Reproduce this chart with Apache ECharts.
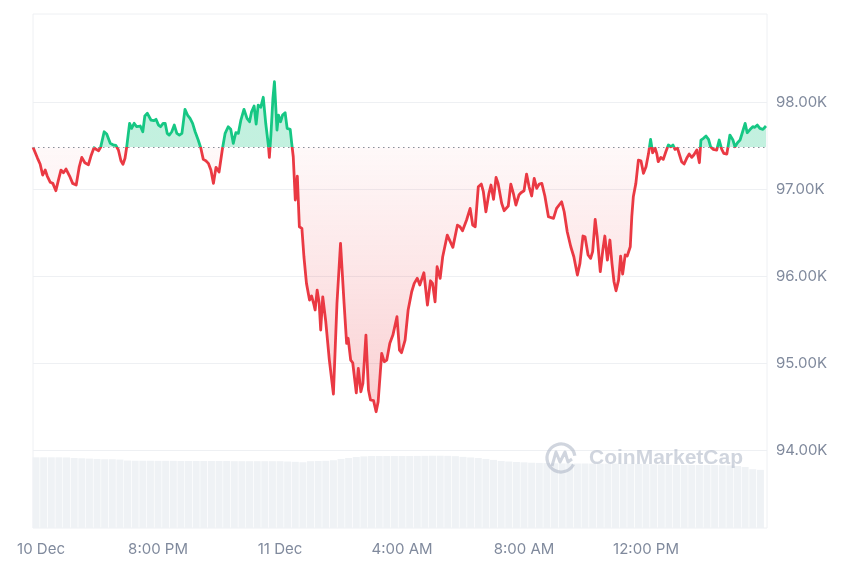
<!DOCTYPE html>
<html><head><meta charset="utf-8">
<script src="https://cdn.jsdelivr.net/npm/echarts@6/dist/echarts.min.js"></script>
<style>html,body{margin:0;padding:0;background:#fff}#c{width:860px;height:573px}</style>
</head><body><div id="c"></div>
<script>
// reference (opening) price, drawn as dotted baseline
const baseline = 97485;
// minutes relative to 11 Dec 00:00
const times = [-486,-477,-472,-467,-462,-458,-452,-447,-441,-436,-431,-426,-421,-414,-408,-401,-395,-390,-384,-377,-372,-366,-362,-357,-353,-346,-341,-334,-328,-323,-318,-313,-309,-305,-302,-296,-292,-287,-282,-275,-270,-266,-261,-254,-248,-244,-239,-235,-230,-226,-222,-218,-213,-208,-203,-198,-193,-187,-182,-177,-172,-167,-161,-156,-151,-146,-141,-136,-131,-126,-120,-113,-108,-102,-97,-92,-87,-82,-77,-71,-65,-60,-56,-51,-47,-43,-38,-33,-28,-23,-21,-18,-14,-11,-6,-3,1,5,10,14,20,23,26,30,34,38,43,47,52,58,62,66,69,73,77,80,84,90,97,105,112,119,126,131,134,139,143,150,154,159,163,169,174,178,184,189,193,200,205,210,216,222,230,235,239,246,252,259,264,270,275,283,290,296,300,305,309,315,320,329,340,349,354,359,367,374,379,384,390,396,400,405,411,415,420,425,429,436,441,449,454,459,464,470,474,480,485,490,495,500,505,510,515,521,528,538,544,554,559,565,572,578,585,590,596,600,606,611,615,620,624,630,635,639,644,649,653,657,661,666,670,674,679,683,689,692,695,700,705,710,715,720,725,729,733,738,741,744,749,754,759,764,769,773,777,782,786,790,795,800,805,810,814,820,825,828,833,838,843,847,852,859,864,869,873,879,882,885,891,895,900,905,910,915,919,925,930,934,939,944,950,956];
const prices = [97485,97358,97292,97166,97223,97154,97082,97070,96985,97108,97223,97192,97235,97154,97070,97051,97261,97369,97307,97284,97384,97480,97461,97445,97484,97663,97637,97530,97511,97507,97453,97330,97289,97358,97473,97760,97702,97760,97721,97729,97663,97844,97875,97798,97790,97806,97740,97721,97760,97760,97645,97625,97663,97740,97645,97625,97645,97921,97855,97817,97760,97663,97568,97480,97346,97330,97300,97223,97070,97254,97200,97480,97645,97721,97691,97530,97652,97645,97798,97921,97817,97778,97893,97959,97752,97970,97944,98059,97752,97511,97369,97625,98047,98238,97683,97855,97778,97855,97882,97702,97691,97530,97376,96879,97154,96572,96553,96227,95921,95730,95776,95692,95615,95844,95692,95385,95767,95480,95040,94650,95692,96381,95692,95232,95290,95040,95009,94664,94945,94676,94772,95327,94695,94581,94573,94446,94561,95117,95021,95040,95232,95327,95538,95155,95124,95270,95615,95825,95921,95979,95902,96043,95672,95951,95921,95710,96112,95979,96227,96476,96335,96591,96572,96526,96649,96783,96591,96572,97031,97062,96974,96744,96956,97051,96887,97139,97070,96841,96756,96810,97062,96956,96821,96936,96962,96985,97177,97031,96925,97128,97013,97062,97070,96925,96687,96668,96783,96859,96744,96514,96342,96227,96017,96151,96465,96457,96247,96209,96285,96657,96457,96055,96304,96465,96189,96419,96151,95940,95836,95959,96235,96028,96247,96235,96342,96687,96916,97070,97338,97330,97185,97261,97415,97576,97422,97473,97415,97319,97369,97346,97434,97511,97491,97511,97461,97473,97396,97319,97292,97358,97407,97369,97396,97453,97307,97568,97588,97614,97576,97491,97461,97453,97568,97461,97415,97407,97422,97625,97568,97491,97537,97568,97663,97760,97652,97691,97721,97714,97740,97702,97691,97729];
// 24h volume (billions USD), one bar every 15 minutes from 10 Dec 4:00 PM
const volStart = -480, volStep = 15;
const volumes = [110.0,110.0,110.0,110.0,109.8,109.0,108.5,108.0,107.5,107.0,107.0,106.5,105.0,104.7,104.7,104.7,104.5,104.5,104.5,104.3,104.3,104.3,104.3,104.3,104.2,104.2,104.0,104.0,104.0,104.0,104.0,104.0,104.0,103.5,103.0,102.3,104.0,104.3,104.5,105.5,107.5,109.0,110.5,111.5,112.0,112.0,112.1,112.1,112.1,112.1,112.2,112.3,112.5,112.5,112.3,111.8,110.7,109.8,108.9,107.5,106.0,104.3,103.5,102.8,102.2,101.6,101.3,101.0,100.7,100.5,100.5,100.4,100.4,100.3,100.2,100.2,100.2,100.1,100.0,99.8,99.5,99.2,98.8,98.4,98.2,98.1,98.1,98.1,98.0,98.0,97.8,97.5,96.5,95.0,91.5,90.5];
const xTickValues = [-480,-240,0,240,480,720];
const xTickLabels = ['10 Dec','8:00 PM','11 Dec','4:00 AM','8:00 AM','12:00 PM'];
const yTickValues = [94000,95000,96000,97000,98000];

const GREEN = '#16c784', RED = '#ea3943';
const priceData = times.map((t, i) => [t, prices[i]]);
const volData = volumes.map((v, i) => [volStart + i * volStep, v]);
const pMax = Math.max(...prices), pMin = Math.min(...prices);
const frac = (pMax - baseline) / (pMax - pMin);

const chart = echarts.init(document.getElementById('c'));
chart.setOption({
  animation: false,
  textStyle: { fontFamily: 'Inter, "Liberation Sans", sans-serif' },
  grid: [
    { left: 33, right: 93, top: 15.4, height: 522.2, show: false },
    { left: 33, right: 93, top: 14, bottom: 45, show: true, borderColor: '#eef0f3', borderWidth: 1, backgroundColor: 'transparent' }
  ],
  xAxis: [
    { gridIndex: 0, type: 'value', min: -486, max: 958, show: false },
    { gridIndex: 1, type: 'value', min: -486, max: 958,
      axisLine: { show: false }, axisTick: { show: false }, splitLine: { show: false },
      axisLabel: { customValues: xTickValues, margin: 14, color: '#808a9d', fontSize: 15,
        rich: { first: { fontSize: 15, color: '#808a9d', padding: [0, 0, 0, 10] } },
        formatter: v => { const k = xTickValues.indexOf(v); return k < 0 ? '' : (k === 0 ? '{first|' + xTickLabels[k] + '}' : xTickLabels[k]); } } }
  ],
  yAxis: [
    { gridIndex: 0, type: 'value', position: 'right', min: 93000, max: 99000, interval: 1000,
      axisLine: { show: false }, axisTick: { show: false },
      splitLine: { show: true, showMinLine: false, showMaxLine: false, lineStyle: { color: '#eef0f3', width: 1 } },
      axisLabel: { margin: 9, color: '#808a9d', fontSize: 15,
        formatter: v => yTickValues.includes(v) ? (v / 1000).toFixed(2) + 'K' : '' } },
    { gridIndex: 1, type: 'value', min: 0, max: 800, show: false }
  ],
  visualMap: {
    show: false, type: 'piecewise', seriesIndex: 2, dimension: 1,
    pieces: [{ gt: 0, lte: baseline, color: RED }, { gt: baseline, lte: 1000000, color: GREEN }],
    outOfRange: { color: RED }
  },
  graphic: [
    { type: 'arc', shape: { cx: 561, cy: 458, r: 14, startAngle: Math.PI * 0.15, endAngle: Math.PI * 1.95 },
      style: { stroke: 'rgba(170,178,194,0.55)', lineWidth: 3.2, fill: null }, z: 5 },
    { type: 'polyline', shape: { points: [[552,466],[556,452],[560,462],[565,452],[568,462],[572,459]] },
      style: { stroke: 'rgba(170,178,194,0.55)', lineWidth: 3, fill: null, lineJoin: 'round' }, z: 5 },
    { type: 'text', left: 589, top: 448, z: 5,
      style: { text: 'CoinMarketCap', font: 'bold 21px "Liberation Sans", Arial, sans-serif', fill: 'rgba(170,178,194,0.55)' } }
  ],
  series: [
    { type: 'bar', xAxisIndex: 1, yAxisIndex: 1, data: volData, barWidth: 7, silent: true, clip: true,
      itemStyle: { color: '#eff2f5' }, z: 1 },
    { type: 'line', xAxisIndex: 0, yAxisIndex: 0, data: priceData, symbol: 'none', silent: true,
      lineStyle: { width: 0, opacity: 0 },
      areaStyle: { origin: baseline, opacity: 1,
        color: new echarts.graphic.LinearGradient(0, 0, 0, 1, [
          { offset: 0, color: 'rgba(22,199,132,0.26)' },
          { offset: frac, color: 'rgba(22,199,132,0.26)' },
          { offset: frac, color: 'rgba(234,57,67,0.03)' },
          { offset: 1, color: 'rgba(234,57,67,0.24)' }
        ]) }, z: 2 },
    { type: 'line', xAxisIndex: 0, yAxisIndex: 0, data: priceData, symbol: 'none', silent: true,
      lineStyle: { width: 2.8, join: 'round' }, z: 3,
      markLine: { silent: true, symbol: 'none', label: { show: false },
        lineStyle: { type: [1.5, 3.5], color: '#8a8f99', width: 1.2 },
        data: [{ yAxis: baseline }] } }
  ]
});
</script></body></html>
